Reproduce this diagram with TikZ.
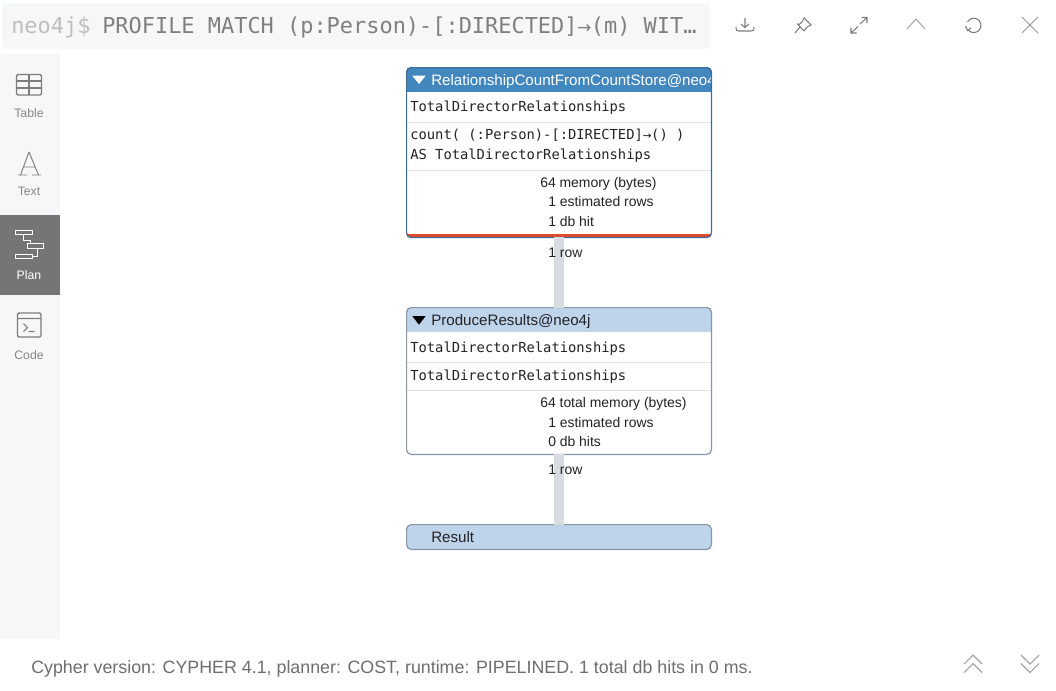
\documentclass[tikz,border=0pt]{standalone}
\usepackage{fontspec}
\setmainfont{Liberation Sans}
\setmonofont{DejaVu Sans Mono}
\newfontfamily\arrowfont{DejaVu Sans}
\usetikzlibrary{arrows.meta}
\definecolor{barbg}{RGB}{246,247,249}
\definecolor{planbg}{RGB}{117,117,117}
\definecolor{iconcol}{RGB}{125,125,125}
\definecolor{promptcol}{RGB}{190,190,192}
\definecolor{cmdcol}{RGB}{128,128,130}
\definecolor{labelcol}{RGB}{135,135,135}
\definecolor{footcol}{RGB}{110,110,112}
\definecolor{hdrdark}{RGB}{66,135,189}
\definecolor{hdrlight}{RGB}{189,212,234}
\definecolor{edgedark}{RGB}{62,108,148}
\definecolor{edgelight}{RGB}{135,150,168}
\definecolor{hitred}{RGB}{224,73,44}
\definecolor{rowgray}{RGB}{216,219,223}
\definecolor{sepgray}{RGB}{222,224,226}
\definecolor{txtcol}{RGB}{35,35,38}
\tikzset{
  opbox/.style={rectangle,rounded corners=3.5pt,minimum width=228.6pt,inner sep=0pt,outer sep=0pt},
  rowbar/.style={rowgray,line width=7.5pt},
  sepline/.style={sepgray,line width=0.9pt},
  monotxt/.style={anchor=base west,inner sep=0pt,text=txtcol,font=\ttfamily\fontsize{10.35}{12}\selectfont},
  stattxt/.style={anchor=base west,inner sep=0pt,text=txtcol,font=\fontsize{10.45}{12}\selectfont},
  hdrtxt/.style={anchor=base west,inner sep=0pt,font=\fontsize{11.35}{13}\selectfont},
  sidetxt/.style={anchor=base,inner sep=0pt,text=labelcol,font=\fontsize{9.2}{11}\selectfont},
  iconline/.style={iconcol,line width=0.8pt},
  thinline/.style={iconcol!80,line width=0.6pt}
}
\newcommand{\relarrow}{\makebox[0.602em]{\scalebox{0.78}{\arrowfont →}}}
\begin{document}
\begin{tikzpicture}[x=0.75pt,y=-0.75pt]
  \useasboundingbox (0,0) rectangle (1056,690);
  \fill[white] (0,0) rectangle (1056,690);
  % top bar and side bar
  \fill[barbg,rounded corners=2.5pt] (2,3) rectangle (710,49);
  \fill[barbg] (0,54) rectangle (60,639);
  \fill[planbg] (0,215) rectangle (60,295);
  \node[anchor=base west,inner sep=0pt,text=promptcol,font=\ttfamily\fontsize{16.45}{20}\selectfont] (prompt) at (11,33) {neo4j\$};
  \node[anchor=base west,inner sep=0pt,text=cmdcol,font=\ttfamily\fontsize{16.45}{20}\selectfont] (query) at (102,33) {PROFILE MATCH (p:Person)-[:DIRECTED]\relarrow(m) WIT…};
  % side icons
  \draw[iconline,line width=1pt,rounded corners=1pt] (16.5,74.5) rectangle (41.5,95);
  \draw[iconline] (16.5,81) -- (41.5,81) (16.5,88) -- (41.5,88) (29,74.5) -- (29,95);
  \draw[iconline,line width=0.7pt] (29,152) -- (20.5,175) (29,152) -- (38.5,175) (23.5,167) -- (35.5,167) (18,175) -- (27,175) (32,175) -- (41,175);
  \draw[white,line width=0.7pt] (15,230.5) rectangle (32,234.5) (27,243.5) rectangle (43,248) (15,254) rectangle (32,258);
  \draw[white,line width=0.7pt] (23.5,234.5) -- (23.5,240) -- (30,240) -- (30,243.5) (37,248) -- (37,256) -- (32,256);
  \draw[iconline,line width=1pt,rounded corners=1pt] (17.5,313) rectangle (41,337);
  \draw[iconline] (17.5,318.5) -- (41,318.5) (23.5,323.5) -- (27.5,327.5) -- (23.5,331.5) (28.5,331.5) -- (34.5,331.5);
  \node[sidetxt] (tablelbl) at (29,117) {Table};
  \node[sidetxt] (textlbl) at (29,195) {Text};
  \node[sidetxt,text=white] (planlbl) at (29,279) {Plan};
  \node[sidetxt] (codelbl) at (29,359) {Code};
  % top icons
  \draw[iconline] (736,27) .. controls (736,31) and (737,31) .. (739,31) -- (751,31) .. controls (753,31) and (754,31) .. (754,27);
  \draw[iconline] (745,18) -- (745,27.5) (741,24) -- (745,27.5) -- (749,24);
  \draw[iconline] (795,33) -- (800,27) (797,23.5) -- (804,31) (798.5,25) -- (802,22) -- (804,18) -- (811,25) -- (807,27) -- (804,31);
  \draw[iconline] (851,33) -- (858,26.5) (860,24) -- (867,17.5) (851,27.5) -- (851,33) -- (856.5,33) (861.5,17.5) -- (867,17.5) -- (867,23);
  \draw[thinline] (907,29) -- (916,19) -- (925,29);
  \draw[iconline] (967.5,29) arc (150:-150:7.2 and 7.2);
  \draw[iconline] (965.5,26) -- (967.5,30.5) -- (971,28);
  \draw[thinline] (1022,17) -- (1038,33) (1038,17) -- (1022,33);
  % operator boxes
  \node[opbox,minimum height=127.35pt,fill=white] (countop) at (559,152.5) {};
  \node[opbox,minimum height=110.1pt,fill=white] (produceop) at (559,381) {};
  \node[opbox,minimum height=18.6pt,fill=hdrlight] (resultop) at (559,537) {};
  \begin{scope}
    \clip[rounded corners=3.5pt] (406,67) rectangle (712,238);
    \fill[hdrdark] (406,67) rectangle (712,92);
    \fill[hitred] (406,234) rectangle (712,238);
    \draw[sepline] (406,122.7) -- (712,122.7) (406,170.2) -- (712,170.2);
    \node[hdrtxt,text=white] (counthdr) at (431,85) {RelationshipCountFromCountStore@neo4j};
  \end{scope}
  \begin{scope}
    \clip[rounded corners=3.5pt] (406,307) rectangle (712,455);
    \fill[hdrlight] (406,307) rectangle (712,332);
    \draw[sepline] (406,362.7) -- (712,362.7) (406,390.2) -- (712,390.2);
    \node[hdrtxt,text=txtcol] (producehdr) at (431,325.5) {ProduceResults@neo4j};
  \end{scope}
  \draw[edgedark,line width=0.9pt,rounded corners=3.5pt] (countop.north west) rectangle (countop.south east);
  \draw[edgelight,line width=0.9pt,rounded corners=3.5pt] (produceop.north west) rectangle (produceop.south east);
  \draw[edgelight,line width=0.9pt,rounded corners=3.5pt] (resultop.north west) rectangle (resultop.south east);
  \fill[white] (412.3,75.7) -- (425.7,75.7) -- (419,84) -- cycle;
  \fill[black] (412.3,316) -- (425.7,316) -- (419,324.7) -- cycle;
  \node[hdrtxt,text=txtcol] (resulthdr) at (431,542) {Result};
  % connectors
  \draw[rowbar] (countop.south) -- (produceop.north);
  \draw[rowbar] (produceop.south) -- (resultop.north);
  \node[stattxt] (countrow) at (548,257) {1 row};
  \node[stattxt] (producerow) at (548,474) {1 row};
  % box texts
  \foreach \nm/\yy/\lbl in {a/111/TotalDirectorRelationships,b/139/{count( (:Person)-[:DIRECTED]\relarrow() )},c/159/AS TotalDirectorRelationships,d/352/TotalDirectorRelationships,e/380/TotalDirectorRelationships}
    \node[monotxt] (mono\nm) at (410,\yy) {\lbl};
  \foreach \nm/\xx/\yy/\lbl in {a/540/187/64 memory (bytes),b/548/206/1 estimated rows,c/548/226/1 db hit,d/540/407/64 total memory (bytes),e/548/427/1 estimated rows,f/548/446/0 db hits}
    \node[stattxt] (stat\nm) at (\xx,\yy) {\lbl};
  % footer
  \node[anchor=base west,inner sep=0pt,text=footcol,font=\fontsize{13.37}{16}\selectfont] (footer) at (31,673) {Cypher version: CYPHER 4.1, planner: COST, runtime: PIPELINED. 1 total db hits in 0 ms.};
  \foreach \yy in {655,663.5} {
    \draw[thinline,iconcol!70,line width=0.8pt] (964,\yy+9) -- (973,\yy) -- (982,\yy+9);
    \draw[thinline,iconcol!70,line width=0.8pt] (1021,\yy) -- (1030,\yy+9) -- (1039,\yy);
  }
\end{tikzpicture}
\end{document}
